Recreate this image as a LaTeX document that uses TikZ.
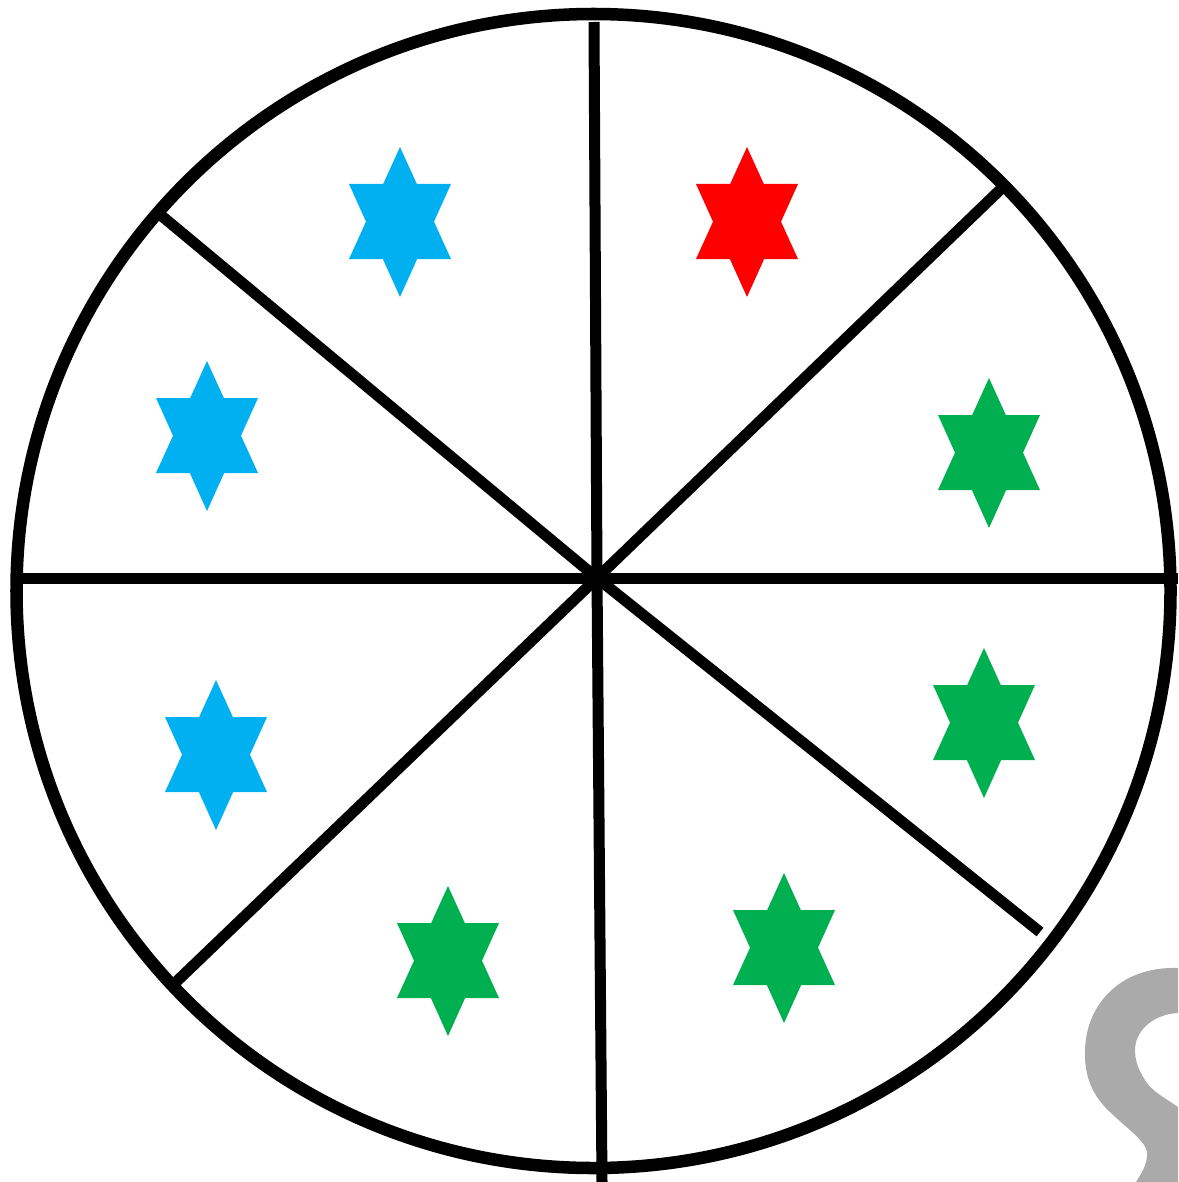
\documentclass[tikz,border=0pt]{standalone}
\usepackage{tikz}
\definecolor{starblue}{RGB}{0,176,240}
\definecolor{starred}{RGB}{255,0,0}
\definecolor{stargreen}{RGB}{0,176,80}
\definecolor{wmgray}{RGB}{170,170,170}
\newcommand{\hexstar}[3]{%
  \fill[#3,shift={(#1,#2)}] (0,-75)--(51,37)--(-51,37)--cycle;
  \fill[#3,shift={(#1,#2)}] (0,75)--(51,-38)--(-51,-38)--cycle;}
\tikzset{spoke/.style={line width=0.11cm,black},
  rim/.style={line width=0.125cm,black}}
\begin{document}
\begin{tikzpicture}[x=0.01cm,y=-0.01cm]
\useasboundingbox[fill=white] (0,0) rectangle (1178,1182);
% watermark
\fill[wmgray] (1178,968) .. controls (1120,966) and (1086,1005) .. (1085,1050)
  .. controls (1084,1080) and (1095,1098) .. (1110,1112)
  .. controls (1125,1127) and (1145,1140) .. (1147,1152)
  .. controls (1148,1165) and (1140,1175) .. (1136,1182)
  -- (1178,1182) -- (1178,1107)
  .. controls (1165,1098) and (1150,1090) .. (1145,1080)
  .. controls (1137,1068) and (1133,1055) .. (1136,1042)
  .. controls (1141,1025) and (1158,1014) .. (1178,1013) -- cycle;
% spokes
\coordinate (c) at (597,578);
\coordinate (n) at (594,22);
\coordinate (s) at (602,1182);
\coordinate (w) at (22,578);
\coordinate (e) at (1178,578);
\coordinate (nw) at (157,212);
\coordinate (se) at (1040,932);
\coordinate (ne) at (1003,187);
\coordinate (sw) at (175,983);
\draw[spoke] (n) -- (c) -- (s);
\draw[spoke] (w) -- (c) -- (e);
\draw[spoke] (nw) -- (c) -- (se);
\draw[spoke] (ne) -- (c) -- (sw);
% rim
\draw[rim] (593.5,591) circle [radius=577];
% stars
\hexstar{400}{222}{starblue}
\hexstar{747}{222}{starred}
\hexstar{207}{436}{starblue}
\hexstar{989}{453}{stargreen}
\hexstar{216}{755}{starblue}
\hexstar{984}{723}{stargreen}
\hexstar{448}{961}{stargreen}
\hexstar{784}{948}{stargreen}
\end{tikzpicture}
\end{document}
